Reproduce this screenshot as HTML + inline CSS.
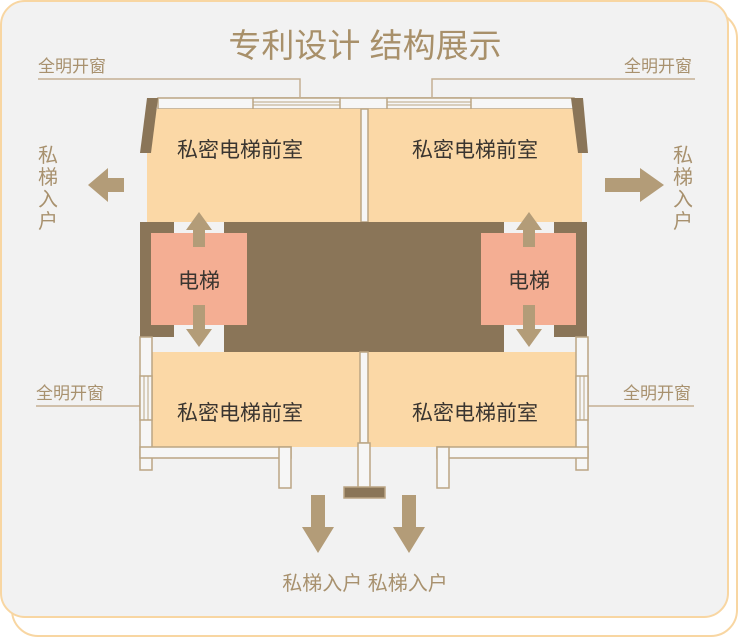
<!DOCTYPE html>
<html><head><meta charset="utf-8"><style>
html,body{margin:0;padding:0;background:#fff;}
svg{display:block;}
text{font-family:"Liberation Sans","Noto Sans CJK SC",sans-serif;}
</style></head><body>
<svg width="740" height="638" viewBox="0 0 740 638" xmlns="http://www.w3.org/2000/svg">
<rect x="0" y="0" width="740" height="638" fill="#fff"/>
<rect x="12" y="12" width="725" height="624" rx="26" fill="#fff" stroke="#f8d6a2" stroke-width="2"/>
<rect x="1" y="1" width="727" height="616" rx="24" fill="#f2f2f2" stroke="#f8d6a2" stroke-width="2"/>
<text x="365" y="57" font-size="33" fill="#a8906a" text-anchor="middle" font-family="'Noto Serif CJK SC',serif">专利设计 结构展示</text>
<g fill="#a8916e" font-size="17">
<text x="38" y="72">全明开窗</text>
<text x="624" y="72">全明开窗</text>
<text x="36" y="399">全明开窗</text>
<text x="623" y="399">全明开窗</text>
</g>
<g stroke="#c4b093" stroke-width="1.5" fill="none">
<polyline points="38,79 300,79 300,97"/>
<polyline points="695,79 432,79 432,97"/>
<line x1="36" y1="406" x2="140" y2="406"/>
<line x1="588" y1="406" x2="694" y2="406"/>
</g>
<g stroke="#bba584" stroke-width="1.5" fill="#f6f6f6">
<rect x="158" y="98" width="416" height="11"/>
<rect x="253" y="98" width="87" height="11"/>
<rect x="387" y="98" width="84" height="11"/>
</g>
<g stroke="#bba584" stroke-width="1">
<line x1="253" y1="102" x2="340" y2="102"/><line x1="253" y1="105" x2="340" y2="105"/>
<line x1="387" y1="102" x2="471" y2="102"/><line x1="387" y1="105" x2="471" y2="105"/>
</g>
<rect x="147" y="109" width="214" height="114" fill="#fbd8a6"/>
<rect x="368" y="109" width="214" height="114" fill="#fbd8a6"/>
<rect x="361" y="109" width="7" height="113" fill="#f6f6f6" stroke="#bba584" stroke-width="1.5"/>
<polygon points="147,98 158,98 151,153 140,153" fill="#8a7558"/>
<polygon points="571,98 583,98 588,153 578,153" fill="#8a7558"/>
<path d="M140,222 H174 V233 H224 V222 H504 V233 H554 V222 H587 V337 H554 V325 H504 V352 H224 V325 H174 V337 H140 Z" fill="#8a7558"/>
<rect x="174" y="222" width="50" height="11" fill="#f2f2f2"/>
<rect x="504" y="222" width="50" height="11" fill="#f2f2f2"/>
<rect x="174" y="325" width="50" height="12" fill="#f2f2f2"/>
<rect x="504" y="325" width="50" height="12" fill="#f2f2f2"/>
<rect x="151" y="233" width="96" height="92" fill="#f4ae93"/>
<rect x="481" y="233" width="95" height="92" fill="#f4ae93"/>
<rect x="152" y="352" width="208" height="95" fill="#fbd8a6"/>
<rect x="368" y="352" width="208" height="95" fill="#fbd8a6"/>
<g stroke="#bba584" stroke-width="1.5" fill="#f6f6f6">
<rect x="140" y="337" width="12" height="133"/>
<rect x="576" y="337" width="12" height="133"/>
<rect x="140" y="447" width="151" height="11"/>
<rect x="279" y="447" width="12" height="41"/>
<rect x="437" y="447" width="151" height="11"/>
<rect x="437" y="447" width="12" height="41"/>
<rect x="360" y="352" width="8" height="91"/>
<rect x="358" y="443" width="12" height="45"/>
<rect x="140" y="376" width="12" height="44"/>
<rect x="576" y="376" width="12" height="44"/>
</g>
<g stroke="#bba584" stroke-width="1">
<line x1="144" y1="376" x2="144" y2="420"/><line x1="148" y1="376" x2="148" y2="420"/>
<line x1="580" y1="376" x2="580" y2="420"/><line x1="584" y1="376" x2="584" y2="420"/>
</g>
<rect x="344" y="487" width="41" height="11" fill="#8a7558" stroke="#bba584" stroke-width="1.5"/>
<g fill="#b39c78">
<path d="M199,212 L212,230 H205 V247 H193 V230 H186 Z"/>
<path d="M199,347 L212,329 H205 V305 H193 V329 H186 Z"/>
<path d="M529,212 L542,230 H535 V247 H523 V230 H516 Z"/>
<path d="M529,347 L542,329 H535 V305 H523 V329 H516 Z"/>
<path d="M88,185 L108,168 V178 H124 V192 H108 V202 Z"/>
<path d="M664,185 L640,168 V178 H605 V192 H640 V202 Z"/>
<path d="M318,553 L302,527 H311 V495 H325 V527 H334 Z"/>
<path d="M409,553 L393,527 H402 V495 H416 V527 H425 Z"/>
</g>
<g fill="#3a3530" font-size="21" text-anchor="middle">
<text x="240" y="157">私密电梯前室</text>
<text x="475" y="157">私密电梯前室</text>
<text x="199" y="288">电梯</text>
<text x="529" y="288">电梯</text>
<text x="240" y="420">私密电梯前室</text>
<text x="475" y="420">私密电梯前室</text>
</g>
<g fill="#a8916e" font-size="20" text-anchor="middle">
<text x="48" y="162">私</text><text x="48" y="184">梯</text><text x="48" y="206">入</text><text x="48" y="228">户</text>
<text x="683" y="162">私</text><text x="683" y="184">梯</text><text x="683" y="206">入</text><text x="683" y="228">户</text>
<text x="365" y="590">私梯入户 私梯入户</text>
</g>
</svg>
</body></html>
